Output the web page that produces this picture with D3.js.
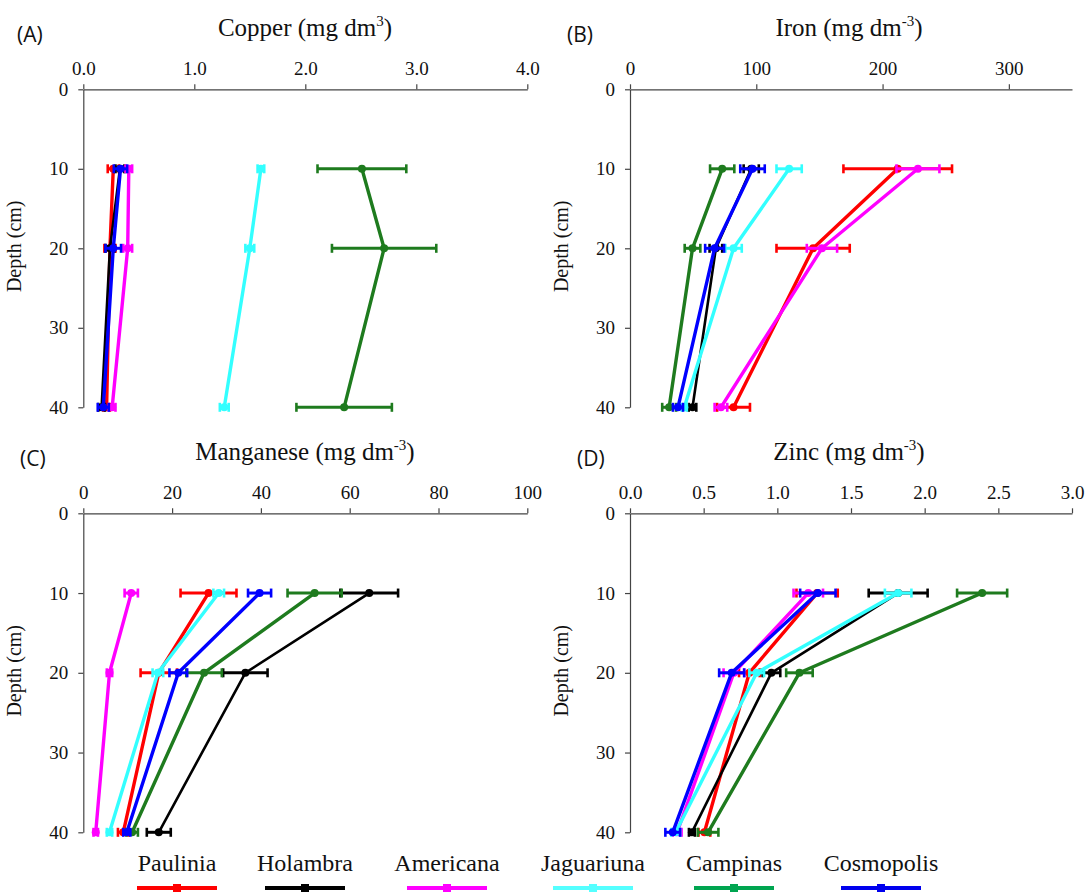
<!DOCTYPE html>
<html>
<head>
<meta charset="utf-8">
<script src="https://cdn.jsdelivr.net/npm/d3@7"></script>
</head>
<body style="margin:0">
<script>
// ---------- data ----------
const depths = [10, 20, 40];
const sites = ["Paulinia", "Holambra", "Americana", "Jaguariuna", "Campinas", "Cosmopolis"];

// Copper (mg dm3)
const copperMean = [
  [0.27, 0.24, 0.21],
  [0.33, 0.24, 0.165],
  [0.41, 0.40, 0.26],
  [1.60, 1.50, 1.27],
  [2.51, 2.71, 2.35],
  [0.335, 0.27, 0.18]
];
const copperErr = [
  [0.05, 0.05, 0.03],
  [0.04, 0.04, 0.03],
  [0.03, 0.04, 0.03],
  [0.03, 0.04, 0.04],
  [0.40, 0.47, 0.43],
  [0.06, 0.07, 0.05]
];
// Iron (mg dm-3)
const ironMean = [
  [212, 145, 82],
  [96, 68, 49.5],
  [228, 152, 72],
  [126, 82, 43],
  [73, 49.5, 31],
  [97, 67, 38]
];
const ironErr = [
  [43, 29, 13],
  [6, 5, 3],
  [17, 12, 5],
  [10, 6.5, 2],
  [9.6, 6.2, 5.5],
  [9.7, 7.5, 4]
];
// Manganese (mg dm-3)
const manganeseMean = [
  [28.2, 17, 9.0],
  [64.4, 36.5, 17],
  [10.8, 5.9, 2.8],
  [30.5, 16.8, 5.9],
  [52.1, 27.2, 11],
  [39.7, 21.4, 9.8]
];
const manganeseErr = [
  [6.3, 4.1, 1.2],
  [6.5, 5, 2.7],
  [1.5, 0.6, 0.5],
  [1.2, 1.2, 0.6],
  [6.1, 4, 1.3],
  [2.6, 2, 0.8]
];
// Zinc (mg dm-3)
const zincMean = [
  [1.27, 0.81, 0.505],
  [1.82, 0.96, 0.42],
  [1.21, 0.705, 0.32],
  [1.82, 0.86, 0.31],
  [2.39, 1.15, 0.53],
  [1.275, 0.69, 0.29]
];
const zincErr = [
  [0.14, 0.07, 0.04],
  [0.20, 0.06, 0.02],
  [0.10, 0.07, 0.03],
  [0.09, 0.05, 0.03],
  [0.17, 0.09, 0.07],
  [0.12, 0.085, 0.05]
];

const copperTicks = [0, 1, 2, 3, 4];
const ironTicks = [0, 100, 200, 300];
const manganeseTicks = [0, 20, 40, 60, 80, 100];
const zincTicks = [0, 0.5, 1.0, 1.5, 2.0, 2.5, 3.0];
const depthTicks = [0, 10, 20, 30, 40];

// ---------- styles / layout ----------
const colors = ["#ff0000", "#000000", "#ff00ff", "#33ffff", "#1e7b1e", "#0000ff"];
const legendColors = ["#ff0000", "#000000", "#ff00ff", "#55ffff", "#00a550", "#0000ee"];
const W = 1088, H = 892;
const SERIF = '"Liberation Serif"';
const SANS = '"Open Sans"';

const panels = [
  { tag: "(A)", name: "Copper (mg dm", sup: "3", mean: copperMean, err: copperErr,
    domain: [0, 4], ticks: copperTicks, fmt: d3.format(".1f"),
    x0: 83.3, x1: 527.3, y0: 89.3, y1: 407.3, tagX: 17, titleX: 305 },
  { tag: "(B)", name: "Iron (mg dm", sup: "-3", mean: ironMean, err: ironErr,
    domain: [0, 350], ticks: ironTicks, fmt: d3.format("d"),
    x0: 630, x1: 1072, y0: 89.3, y1: 407.3, tagX: 567, titleX: 849 },
  { tag: "(C)", name: "Manganese (mg dm", sup: "-3", mean: manganeseMean, err: manganeseErr,
    domain: [0, 100], ticks: manganeseTicks, fmt: d3.format("d"),
    x0: 83.3, x1: 527.3, y0: 513.3, y1: 832.3, tagX: 20, titleX: 305 },
  { tag: "(D)", name: "Zinc (mg dm", sup: "-3", mean: zincMean, err: zincErr,
    domain: [0, 3], ticks: zincTicks, fmt: d3.format(".1f"),
    x0: 630, x1: 1072, y0: 513.3, y1: 832.3, tagX: 577, titleX: 849 }
];

const svg = d3.select("body").append("svg")
  .attr("width", W).attr("height", H);

panels.forEach(p => {
  const g = svg.append("g");
  const x = d3.scaleLinear().domain(p.domain).range([p.x0, p.x1]);
  const y = d3.scaleLinear().domain([0, 40]).range([p.y0, p.y1]);

  // x axis (top)
  const xa = g.append("g").attr("transform", `translate(0,${p.y0})`)
    .call(d3.axisTop(x).tickValues(p.ticks).tickFormat(p.fmt).tickSize(5).tickSizeOuter(0).tickPadding(9));
  // y axis (left)
  const ya = g.append("g").attr("transform", `translate(${p.x0},0)`)
    .call(d3.axisLeft(y).tickValues(depthTicks).tickSize(5).tickSizeOuter(0).tickPadding(10));
  [xa, ya].forEach(a => {
    a.attr("font-family", null).attr("font-size", null);
    a.select(".domain").attr("stroke", "#444").attr("stroke-width", 1.2);
    a.selectAll(".tick line").attr("stroke", "#444").attr("stroke-width", 1.2);
    a.selectAll(".tick text").style("font-family", SERIF).attr("font-size", 19).attr("fill", "#111");
  });

  // panel tag
  g.append("text").style("font-family", SANS).attr("x", p.tagX).attr("y", p.y0 - 47)
    .attr("font-size", 21).attr("fill", "#111").text(p.tag);

  // title with superscript
  const t = g.append("text").style("font-family", SERIF).attr("x", p.titleX).attr("y", p.y0 - 53)
    .attr("text-anchor", "middle").attr("font-size", 25).attr("fill", "#111");
  t.append("tspan").text(p.name);
  t.append("tspan").attr("dy", -10).attr("font-size", 15).text(p.sup);
  t.append("tspan").attr("dy", 10).text(")");

  // y label
  const ly = (p.y0 + p.y1) / 2 - 2;
  const lx = p.x0 - 62;
  g.append("text").style("font-family", SERIF).attr("transform", `translate(${lx},${ly}) rotate(-90)`)
    .attr("text-anchor", "middle").attr("font-size", 20).attr("fill", "#111")
    .text("Depth (cm)");

  const line = d3.line().x(d => x(d.v)).y(d => y(d.d));

  sites.forEach((s, i) => {
    const pts = depths.map((d, j) => ({ d, v: p.mean[i][j], e: p.err[i][j] }));
    const sg = g.append("g");
    const sw = i === 1 ? 2.6 : 3.4;
    sg.append("path").datum(pts).attr("d", line)
      .attr("fill", "none").attr("stroke", colors[i]).attr("stroke-width", sw).attr("stroke-linejoin", "round");
    // error bars
    pts.forEach(pt => {
      sg.append("line").attr("x1", x(pt.v - pt.e)).attr("x2", x(pt.v + pt.e))
        .attr("y1", y(pt.d)).attr("y2", y(pt.d)).attr("stroke", colors[i]).attr("stroke-width", 3);
      [pt.v - pt.e, pt.v + pt.e].forEach(v => {
        sg.append("line").attr("x1", x(v)).attr("x2", x(v))
          .attr("y1", y(pt.d) - 4.5).attr("y2", y(pt.d) + 4.5)
          .attr("stroke", colors[i]).attr("stroke-width", 2.6);
      });
    });
    sg.selectAll("circle").data(pts).join("circle")
      .attr("cx", d => x(d.v)).attr("cy", d => y(d.d)).attr("r", 4)
      .attr("fill", colors[i]);
  });
});

// ---------- legend ----------
const legendCenters = [177, 305, 447, 593, 734, 881];
const lg = svg.append("g");
sites.forEach((s, i) => {
  const cx = legendCenters[i];
  lg.append("text").style("font-family", SERIF).attr("x", cx).attr("y", 871)
    .attr("text-anchor", "middle").attr("font-size", 24).attr("fill", "#111").text(s);
  lg.append("line").attr("x1", cx - 40).attr("x2", cx + 40).attr("y1", 888).attr("y2", 888)
    .attr("stroke", legendColors[i]).attr("stroke-width", 4);
  lg.append("rect").attr("x", cx - 4).attr("y", 884).attr("width", 8).attr("height", 8)
    .attr("fill", legendColors[i]);
});
</script>
</body>
</html>
